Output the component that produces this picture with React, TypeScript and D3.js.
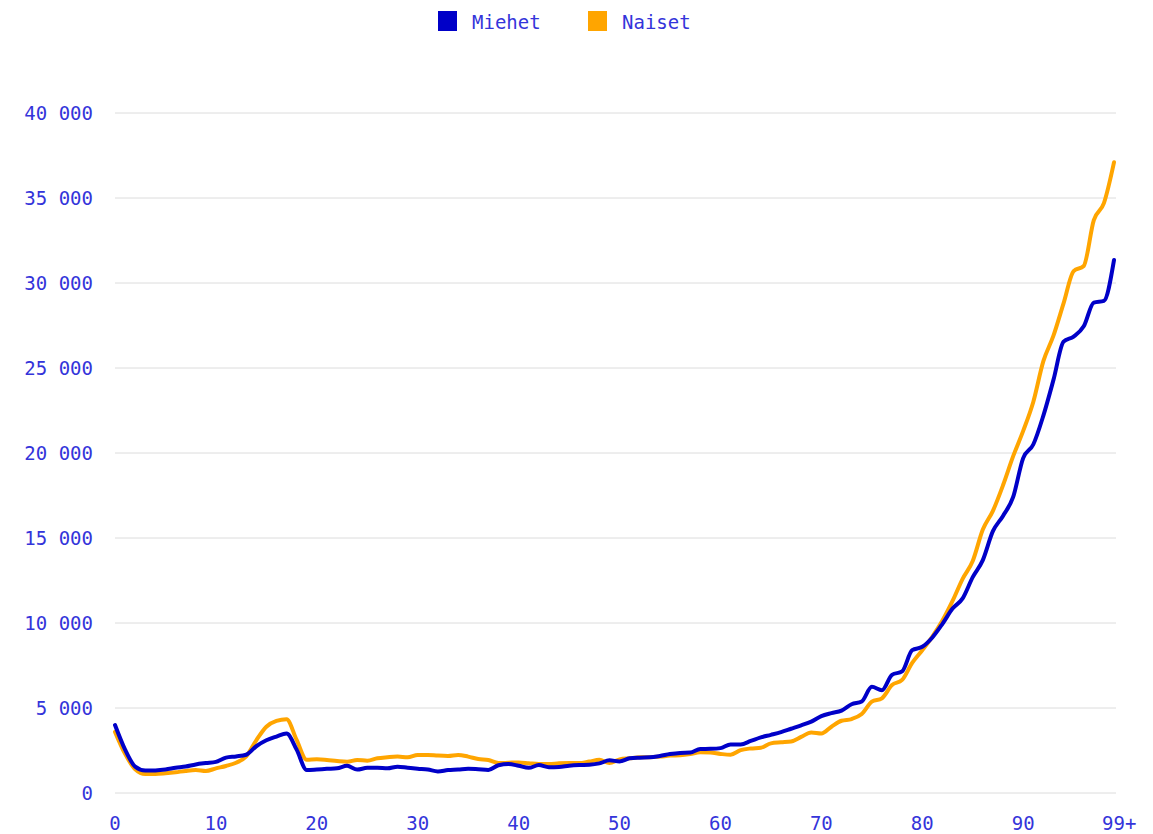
import React from "react";
import * as d3 from "d3";

const ages = d3.range(0, 100);
const xTicks = [0, 10, 20, 30, 40, 50, 60, 70, 80, 90, 99];
const yTicks = [0, 5000, 10000, 15000, 20000, 25000, 30000, 35000, 40000];

const miehet = [
  4000, 2550, 1550, 1320, 1330, 1380, 1480, 1560, 1680, 1760,
  1830, 2080, 2150, 2250, 2750, 3100, 3320, 3500, 2550, 1350,
  1380, 1420, 1450, 1600, 1380, 1480, 1480, 1450, 1550, 1490,
  1430, 1380, 1270, 1350, 1380, 1430, 1400, 1360, 1630, 1700,
  1600, 1480, 1640, 1520, 1530, 1600, 1640, 1660, 1740, 1920,
  1860, 2040, 2080, 2100, 2180, 2290, 2360, 2380, 2590, 2600,
  2640, 2860, 2860, 3060, 3270, 3420, 3580, 3780, 3980, 4200,
  4520, 4700, 4850, 5220, 5380, 6250, 6050, 6950, 7150, 8400,
  8600, 9150, 9950, 10850, 11450, 12700, 13700, 15400, 16300, 17400,
  19700, 20500, 22200, 24300, 26550, 26850, 27450, 28850, 28950, 31350,
];

const naiset = [
  3600, 2300, 1400, 1120, 1120, 1160, 1220, 1300, 1350, 1290,
  1450, 1590, 1780, 2150, 3100, 3900, 4240, 4340, 3120, 1950,
  1980, 1940, 1880, 1840, 1940, 1900, 2040, 2100, 2140, 2100,
  2240, 2240, 2200, 2180, 2240, 2140, 2000, 1940, 1760, 1780,
  1800, 1750, 1700, 1700, 1750, 1770, 1760, 1850, 1950, 1760,
  1980, 2040, 2100, 2100, 2140, 2200, 2220, 2290, 2400, 2380,
  2300, 2250, 2520, 2620, 2660, 2920, 2980, 3030, 3300, 3560,
  3500, 3900, 4250, 4350, 4650, 5370, 5570, 6350, 6650, 7650,
  8400, 9200, 10150, 11300, 12600, 13650, 15500, 16600, 18100, 19800,
  21300, 23000, 25400, 26900, 28800, 30700, 31000, 33700, 34700, 37100,
];

const series = [
  { name: "Naiset", values: naiset, color: "#ffa500" },
  { name: "Miehet", values: miehet, color: "#0000c8" },
];

const legend = [
  { name: "Miehet", color: "#0000c8" },
  { name: "Naiset", color: "#ffa500" },
];

const W = 1153;
const H = 834;
const textColor = "#3434da";
const font = "'DejaVu Sans Mono', monospace";

export default function App() {
  const x = d3.scaleLinear().domain([0, 99]).range([115, 1114]);
  const y = d3.scaleLinear().domain([0, 40000]).range([793, 113]);
  const fmt = (v: number) => d3.format(",")(v).replace(/,/g, " ");

  const line = d3
    .line<number>()
    .x((_, i) => x(ages[i]))
    .y((d) => y(d))
    .curve(d3.curveMonotoneX);

  return (
    <svg
      width={W}
      height={H}
      style={{ position: "absolute", left: 0, top: 0, background: "#fff" }}
      fontFamily={font}
    >
      {/* legend */}
      {legend.map((l, i) => (
        <g key={l.name} transform={`translate(${438 + i * 150},11)`}>
          <rect width={19} height={20} fill={l.color} />
          <text x={34} y={18} fontSize={19} fill={textColor}>
            {l.name}
          </text>
        </g>
      ))}

      {/* grid + y labels */}
      {yTicks.map((t) => (
        <g key={t}>
          <line x1={115} x2={1116} y1={y(t)} y2={y(t)} stroke="#dcdcdc" strokeWidth={1} />
          <text
            x={93}
            y={y(t)}
            dy="0.36em"
            textAnchor="end"
            fontSize={19}
            fill={textColor}
          >
            {fmt(t)}
          </text>
        </g>
      ))}

      {/* x labels */}
      {xTicks.map((t) => (
        <text
          key={t}
          x={x(t)}
          y={830}
          textAnchor={t === 99 ? "start" : "middle"}
          dx={t === 99 ? -12 : 0}
          fontSize={19}
          fill={textColor}
        >
          {t === 99 ? "99+" : t}
        </text>
      ))}

      {series.map((s) => (
        <path
          key={s.name}
          d={line(s.values) || ""}
          fill="none"
          stroke={s.color}
          strokeWidth={4}
          strokeLinejoin="round"
          strokeLinecap="round"
        />
      ))}
    </svg>
  );
}
